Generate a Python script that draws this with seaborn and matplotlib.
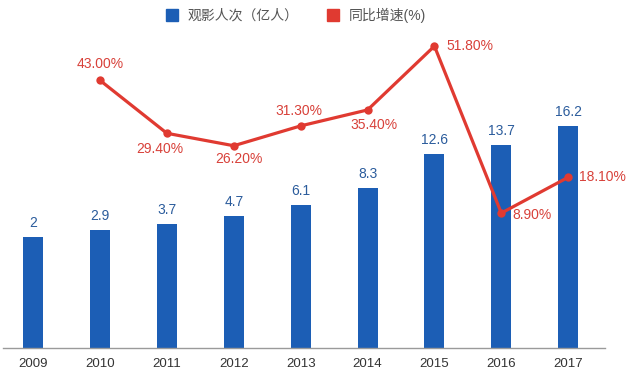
import numpy as np
import pandas as pd
import matplotlib
matplotlib.use("Agg")
import matplotlib.pyplot as plt
from matplotlib.lines import Line2D
import seaborn as sns

years = ["2009", "2010", "2011", "2012", "2013", "2014", "2015", "2016", "2017"]
viewers = [2, 2.9, 3.7, 4.7, 6.1, 8.3, 12.6, 13.7, 16.2]
viewer_labels = ["2", "2.9", "3.7", "4.7", "6.1", "8.3", "12.6", "13.7", "16.2"]
growth_years = ["2010", "2011", "2012", "2013", "2014", "2015", "2016", "2017"]
growth = [43.00, 29.40, 26.20, 31.30, 35.40, 51.80, 8.90, 18.10]
legend_labels = ["观影人次（亿人）", "同比增速(%)"]

BLUE = "#1c5eb5"
RED = "#e03a31"
BLUE_TXT = "#2b5c9c"
RED_TXT = "#d8413a"

sns.set_theme(style="white")
plt.rcParams["font.family"] = ["Liberation Sans", "Noto Sans CJK SC", "DejaVu Sans"]

fig = plt.figure(figsize=(6.3, 3.77), dpi=100)
ax = fig.add_axes([0.0048, 0.0777, 0.9555, 0.8423])

df = pd.DataFrame({"year": years, "viewers": viewers})
sns.barplot(data=df, x="year", y="viewers", order=years, color=BLUE,
            width=0.3, saturation=1, ax=ax, errorbar=None)
ymin, ymax = -12.0, 28.3
ax.set_ylim(ymin, ymax)
ax.set_xlim(-0.45, 8.55)
# bars rise from the horizontal axis (axis crosses at its minimum)
for p in ax.patches:
    h = p.get_height()
    p.set_y(ymin)
    p.set_height(h - ymin)
    p.set_linewidth(0)

for i, (v, lab) in enumerate(zip(viewers, viewer_labels)):
    ax.annotate(lab, (i, v), xytext=(0, 5), textcoords="offset points",
                ha="center", va="bottom", fontsize=10, color=BLUE_TXT)

for s in ["top", "left", "right"]:
    ax.spines[s].set_visible(False)
ax.spines["bottom"].set_color("#9a9a9a")
ax.spines["bottom"].set_linewidth(1.0)
ax.set_yticks([])
ax.set_xlabel("")
ax.set_ylabel("")
ax.tick_params(axis="x", length=0, pad=7.5, labelsize=9.5, labelcolor="#333333")

ax2 = ax.twinx()
gdf = pd.DataFrame({"pos": [years.index(y) for y in growth_years], "growth": growth})
sns.lineplot(data=gdf, x="pos", y="growth", color=RED, linewidth=2.3,
             marker="o", markersize=6, markeredgewidth=0, ax=ax2)
ax2.set_ylim(-25.7, 55.9)
ax2.set_xlim(-0.45, 8.55)
ax2.set_yticks([])
ax2.set_ylabel("")
ax2.set_xlabel("")
for s in ["top", "left", "right", "bottom"]:
    ax2.spines[s].set_visible(False)

offsets = [(0, 11.5), (-5, -11.5), (3.7, -9.6), (-1.4, 10.6), (4.5, -10.8),
           (9, 0), (8, -1.7), (8, 0)]
aligns = ["center", "center", "center", "center", "center", "left", "left", "left"]
for x, g, off, ha in zip(gdf["pos"], growth, offsets, aligns):
    ax2.annotate(f"{g:.2f}%", (x, g), xytext=off, textcoords="offset points",
                 ha=ha, va="center", fontsize=10, color=RED_TXT)

handles = [Line2D([], [], marker="s", linestyle="", markersize=8.6, color=BLUE),
           Line2D([], [], marker="s", linestyle="", markersize=8.6, color=RED)]
fig.legend(handles, legend_labels, loc="center", bbox_to_anchor=(0.469, 0.960),
           ncol=2, frameon=False, fontsize=10, handlelength=1.0, handletextpad=0.6,
           columnspacing=2.0, labelcolor="#555555", borderaxespad=0, borderpad=0)

fig.savefig("out.png", dpi=100)
